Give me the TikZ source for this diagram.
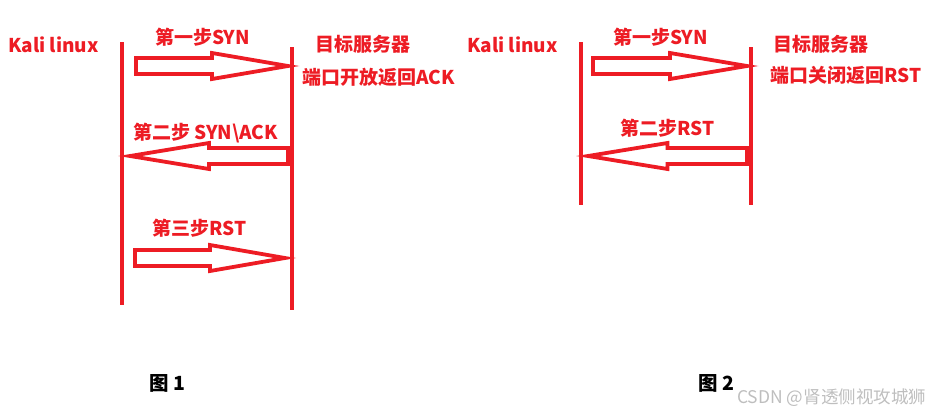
\documentclass[tikz,border=0pt]{standalone}
\usepackage{fontspec}
\newfontfamily\cjk{Noto Sans CJK SC}
\usetikzlibrary{positioning}
\definecolor{scanred}{RGB}{237,28,36}
\definecolor{markgray}{RGB}{190,190,190}

% hollow block arrow: tail x, tip x, centre y
\newcommand{\blockarrow}[3]{%
  \draw[blockarr] (#1,#3-8) -- ({(#1+#2)/2},#3-8) -- ({(#1+#2)/2},#3-13)
    -- (#2,#3) -- ({(#1+#2)/2},#3+13) -- ({(#1+#2)/2},#3+8) -- (#1,#3+8) -- cycle;}

\begin{document}
\begin{tikzpicture}[
        x=1pt, y=-1pt,
        lifeline/.style={draw=scanred, line width=4pt},
        blockarr/.style={draw=scanred, line width=3.8pt, fill=white, line join=miter},
        tag/.style={text=scanred, font=\cjk\bfseries\fontsize{19}{21}\selectfont, inner sep=0pt, anchor=west},
        figtag/.style={font=\cjk\bfseries\fontsize{19.5}{21}\selectfont, inner sep=0pt, anchor=west},
        credittag/.style={text=markgray, font=\cjk\fontsize{17.5}{20}\selectfont, inner sep=0pt, anchor=west}
      ]
      \useasboundingbox (0,0) rectangle (931,413);

      % figure 1: port open
      \coordinate (kaliA) at (122,42);
      \coordinate (kaliAend) at (122,305);
      \coordinate (srvA) at (292,47);
      \coordinate (srvAend) at (292,310);
      \draw[lifeline] (kaliA) -- (kaliAend);
      \draw[lifeline] (srvA) -- (srvAend);
      \node[tag] (clientA) at (8,45) {Kali linux};
      \node[tag] (serverA) at (315,44) {目标服务器};
      \node[tag] (openA) at (302,77) {端口开放返回ACK};
      \node[tag] (synA) at (155,37) {第一步SYN};
      \node[tag] (ackA) at (133,133) {第二步 SYN\textbackslash ACK};
      \node[tag] (rstA) at (152,228) {第三步RST};
      \blockarrow{136}{288}{66}
      \blockarrow{288}{130}{156}
      \blockarrow{135}{285}{258}
      \node[figtag] (capA) at (149,383) {图 1};

      % figure 2: port closed
      \coordinate (kaliB) at (581,42);
      \coordinate (kaliBend) at (581,205);
      \coordinate (srvB) at (751,47);
      \coordinate (srvBend) at (751,205);
      \draw[lifeline] (kaliB) -- (kaliBend);
      \draw[lifeline] (srvB) -- (srvBend);
      \node[tag] (clientB) at (467,45) {Kali linux};
      \node[tag] (serverB) at (773,44) {目标服务器};
      \node[tag] (closeB) at (770,75) {端口关闭返回RST};
      \node[tag] (synB) at (613,37) {第一步SYN};
      \node[tag] (rstB) at (620,128) {第二步RST};
      \blockarrow{593}{747}{66}
      \blockarrow{747}{588}{156}
      \node[figtag] (capB) at (698,383) {图 2};

      \node[credittag] (credit) at (737,398) {CSDN @肾透侧视攻城狮};
    \end{tikzpicture}
\end{document}
